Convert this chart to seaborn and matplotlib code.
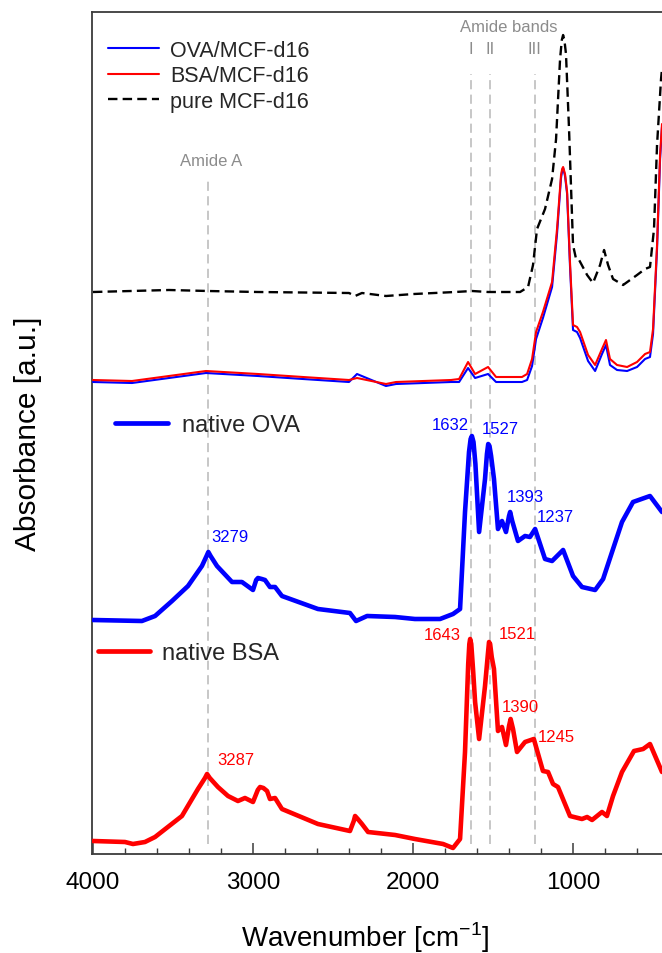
import numpy as np
import pandas as pd
import matplotlib
matplotlib.use("Agg")
import matplotlib.pyplot as plt
import seaborn as sns
from matplotlib.lines import Line2D
from matplotlib.ticker import MultipleLocator

# ---------------- data (offset a.u.) ----------------
bsa_wn = [4000, 3800, 3750, 3675, 3612, 3444, 3344, 3300, 3287, 3270, 3219, 3156, 3094, 3050, 3000, 2970, 2956,
          2935, 2912, 2894, 2862, 2819, 2594, 2394, 2370, 2362, 2345, 2319, 2281, 2112, 1988, 1812, 1750, 1706,
          1675, 1655, 1648, 1643, 1636, 1625, 1612, 1587, 1550, 1532, 1525, 1518, 1508, 1494, 1469, 1444, 1419,
          1400, 1390, 1375, 1350, 1300, 1245, 1188, 1156, 1125, 1094, 1019, 944, 912, 881, 819, 788, 750,
          694, 619, 562, 519, 444]
bsa_native = [0.13, 0.12, 0.10, 0.12, 0.17, 0.38, 0.65, 0.76, 0.80, 0.76, 0.67, 0.58, 0.53, 0.56, 0.52, 0.64, 0.67,
              0.66, 0.63, 0.55, 0.56, 0.45, 0.30, 0.23, 0.33, 0.38, 0.35, 0.30, 0.22, 0.19, 0.15, 0.10, 0.06, 0.15,
              1.02, 1.90, 2.10, 2.15, 2.10, 1.85, 1.52, 1.15, 1.68, 2.00, 2.12, 2.10, 1.97, 1.85, 1.23, 1.27, 1.09,
              1.28, 1.35, 1.25, 1.02, 1.12, 1.15, 0.83, 0.82, 0.70, 0.67, 0.38, 0.35, 0.37, 0.34, 0.42, 0.38, 0.58,
              0.82, 1.03, 1.05, 1.10, 0.82]

ova_wn = [4000, 3694, 3612, 3506, 3406, 3319, 3290, 3279, 3265, 3225, 3131, 3069, 3000, 2980, 2969, 2945, 2925,
          2894, 2862, 2819, 2594, 2394, 2356, 2287, 2112, 1988, 1831, 1750, 1706, 1675, 1650, 1640, 1632,
          1622, 1610, 1587, 1550, 1538, 1530, 1522, 1512, 1494, 1469, 1444, 1419, 1400, 1393, 1380, 1344,
          1300, 1269, 1237, 1175, 1131, 1062, 1000, 944, 862, 812, 750, 694, 625, 519, 444]
ova_native = [2.34, 2.33, 2.38, 2.53, 2.68, 2.88, 2.98, 3.02, 2.98, 2.88, 2.72, 2.72, 2.64, 2.74, 2.76, 2.75, 2.74,
              2.67, 2.67, 2.58, 2.45, 2.41, 2.33, 2.38, 2.37, 2.35, 2.35, 2.40, 2.45, 3.42, 4.02, 4.15, 4.18,
              4.12, 3.90, 3.22, 3.75, 4.00, 4.10, 4.08, 3.98, 3.75, 3.25, 3.33, 3.22, 3.38, 3.42, 3.33, 3.13,
              3.18, 3.17, 3.25, 2.95, 2.93, 3.04, 2.78, 2.67, 2.64, 2.75, 3.05, 3.32, 3.52, 3.58, 3.42]

mcf_wn = [4000, 3525, 3281, 2969, 2400, 2362, 2319, 2169, 1994, 1737, 1631, 1531, 1331, 1281,
          1250, 1225, 1175, 1131, 1106, 1081, 1070, 1062, 1054, 1044, 1025, 1000, 981, 962, 912, 875, 831,
          806, 781, 750, 687, 600, 550, 519, 494, 475, 450, 444]
pure_mcf = [5.62, 5.64, 5.63, 5.62, 5.61, 5.58, 5.61, 5.58, 5.60, 5.62, 5.63, 5.62, 5.62, 5.67,
            5.89, 6.25, 6.45, 6.75, 7.15, 7.95, 8.14, 8.19, 8.14, 8.00, 7.25, 6.09, 5.95, 5.94, 5.79, 5.71, 5.89,
            6.04, 5.89, 5.75, 5.69, 5.79, 5.85, 5.87, 6.25, 7.09, 7.75, 7.85]

loaded_wn = [4000, 3756, 3525, 3294, 2969, 2688, 2400, 2350, 2169, 2106, 1762, 1712, 1656, 1612,
             1531, 1481, 1319, 1287, 1256, 1231, 1188, 1131, 1100, 1075, 1068, 1062, 1050, 1037, 1019, 1000,
             975, 956, 906, 862, 819, 794, 769, 725, 662, 600, 550, 519, 500, 475, 456, 444]
bsa_mcf = [4.74, 4.73, 4.78, 4.83, 4.80, 4.77, 4.74, 4.76, 4.70, 4.72, 4.74, 4.75, 4.92, 4.80,
           4.87, 4.77, 4.77, 4.80, 4.95, 5.22, 5.42, 5.72, 6.25, 6.79, 6.85, 6.87, 6.80, 6.62, 5.92, 5.29,
           5.27, 5.22, 4.99, 4.89, 5.05, 5.14, 4.95, 4.89, 4.87, 4.92, 5.00, 5.02, 5.25, 6.09, 6.99, 7.30]
ova_mcf = [4.72, 4.71, 4.76, 4.81, 4.78, 4.75, 4.72, 4.80, 4.68, 4.70, 4.72, 4.72, 4.86, 4.76,
           4.80, 4.72, 4.72, 4.74, 4.88, 5.15, 5.36, 5.67, 6.20, 6.76, 6.83, 6.86, 6.78, 6.60, 5.88, 5.24,
           5.22, 5.16, 4.93, 4.83, 5.00, 5.09, 4.89, 4.84, 4.83, 4.87, 4.95, 4.97, 5.20, 6.05, 6.95, 7.27]

xtick_vals = [4000, 3000, 2000, 1000]
xtick_labels = ["4000", "3000", "2000", "1000"]

amide_band_pos = [1640, 1521, 1240]
amide_band_names = ["I", "II", "III"]
amide_a_pos = 3280

ova_peaks = [(1769, 4.30, "1632"), (1456, 4.25, "1527"), (1300, 3.57, "1393"),
             (1112, 3.38, "1237"), (3144, 3.18, "3279")]
bsa_peaks = [(1819, 2.19, "1643"), (1350, 2.20, "1521"), (1331, 1.47, "1390"),
             (1106, 1.17, "1245"), (3106, 0.94, "3287")]

# ---------------- style ----------------
sns.set_theme(style="ticks")
plt.rcParams['font.family'] = ['Liberation Sans', 'DejaVu Sans']

BLUE = "#0000ff"
RED = "#ff0000"
GRAY = "#8c8c8c"
LGRAY = "#b8b8b8"
SPINE = "#3c3c3c"

fig = plt.figure(figsize=(6.62, 9.54), dpi=100)
ax = fig.add_axes([92 / 662, 99 / 954, 570 / 662, 842 / 954])

# vertical guide lines
for p in amide_band_pos:
    ax.plot([p, p], [0.1, 7.80], color=LGRAY, lw=1.1, ls=(0, (6, 3.5)), zorder=1)
ax.plot([amide_a_pos, amide_a_pos], [0.1, 6.76], color=LGRAY, lw=1.1, ls=(0, (6, 3.5)), zorder=1)

# curves
sns.lineplot(x=mcf_wn, y=pure_mcf, color="black", lw=1.7, linestyle=(0, (4, 2.2)), ax=ax,
             sort=False, estimator=None, zorder=3)
sns.lineplot(x=loaded_wn, y=ova_mcf, color=BLUE, lw=1.5, ax=ax, sort=False, estimator=None, zorder=3)
sns.lineplot(x=loaded_wn, y=bsa_mcf, color=RED, lw=1.5, ax=ax, sort=False, estimator=None, zorder=4)
sns.lineplot(x=ova_wn, y=ova_native, color=BLUE, lw=3.3, ax=ax, sort=False, estimator=None, zorder=3)
sns.lineplot(x=bsa_wn, y=bsa_native, color=RED, lw=3.3, ax=ax, sort=False, estimator=None, zorder=3)
for ln in ax.lines:
    ln.set_solid_joinstyle("round")
    ln.set_dash_joinstyle("round")
    ln.set_solid_capstyle("round")

ax.set_xlim(4006, 444)
ax.set_ylim(0, 8.42)

# annotations
for x, y, s in ova_peaks:
    ax.text(x, y, s, color=BLUE, fontsize=12, ha="center", va="center")
for x, y, s in bsa_peaks:
    ax.text(x, y, s, color=RED, fontsize=12, ha="center", va="center")
ax.text(1400, 8.28, "Amide bands", color=GRAY, fontsize=12, ha="center", va="center")
for p, nm in zip(amide_band_pos, amide_band_names):
    ax.text(p, 8.05, nm, color=GRAY, fontsize=12, ha="center", va="center")
ax.text(3262, 6.94, "Amide A", color=GRAY, fontsize=12, ha="center", va="center")

# legends
h_top = [Line2D([], [], color=BLUE, lw=1.5),
         Line2D([], [], color=RED, lw=1.5),
         Line2D([], [], color="black", lw=1.7, ls=(0, (4, 2.2)))]
leg1 = ax.legend(h_top, ["OVA/MCF-d16", "BSA/MCF-d16", "pure MCF-d16"], loc="upper left",
                 bbox_to_anchor=((108 - 92) / 570, (855 - 41) / 842), frameon=False, fontsize=15.5,
                 handlelength=2.35, handletextpad=0.55, labelspacing=0.2, borderpad=0,
                 borderaxespad=0)
ax.add_artist(leg1)
leg2 = ax.legend([Line2D([], [], color=BLUE, lw=3.4)], ["native OVA"], loc="upper left",
                 bbox_to_anchor=((115 - 92) / 570, (855 - 415) / 842), frameon=False, fontsize=17,
                 handlelength=2.25, handletextpad=0.58, borderpad=0, borderaxespad=0)
ax.add_artist(leg2)
leg3 = ax.legend([Line2D([], [], color=RED, lw=3.4)], ["native BSA"], loc="upper left",
                 bbox_to_anchor=((98 - 92) / 570, (855 - 643) / 842), frameon=False, fontsize=17,
                 handlelength=2.2, handletextpad=0.5, borderpad=0, borderaxespad=0)

# axes styling
ax.set_xticks(xtick_vals)
ax.set_xticklabels(xtick_labels)
ax.xaxis.set_minor_locator(MultipleLocator(200))
ax.set_yticks([])
ax.tick_params(axis="x", which="major", direction="in", length=8, width=1.1, color=SPINE,
               labelsize=17.5, pad=12, labelcolor="black")
ax.tick_params(axis="x", which="minor", direction="in", length=4, width=1.0, color=SPINE)
for side in ["left", "top", "bottom"]:
    ax.spines[side].set_color(SPINE)
    ax.spines[side].set_linewidth(1.3)
ax.spines["right"].set_visible(False)

ax.set_xlabel("Wavenumber [cm$^{\\mathregular{-1}}$]", fontsize=20, color="black")
ax.set_ylabel("Absorbance [a.u.]", fontsize=21.5, color="black")
ax.xaxis.set_label_coords(0.479, -0.078)
ax.yaxis.set_label_coords(-0.088, 0.5)

fig.savefig("out.png", dpi=100)
